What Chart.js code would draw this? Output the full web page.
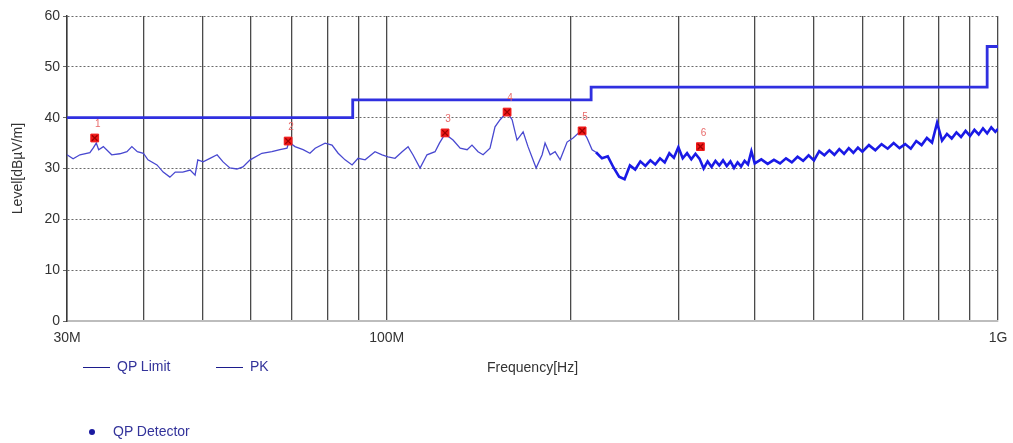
<!DOCTYPE html>
<html>
<head>
<meta charset="utf-8">
<script src="https://cdn.jsdelivr.net/npm/chart.js@4.4.1/dist/chart.umd.min.js"></script>
<style>
  html, body { margin: 0; padding: 0; background: #fff; }
  #wrap { position: relative; width: 1013px; height: 443px; }
  .leg { position: absolute; font: 14px "Liberation Sans", Arial, sans-serif; color: #33339a; white-space: nowrap; }
  .leg .ln { display: inline-block; width: 27px; height: 0; border-top: 1.5px solid #1c1c8c; vertical-align: middle; margin-right: 7px; }
  .leg .dot { display: inline-block; width: 6px; height: 6px; border-radius: 50%; background: #1a1aa0; vertical-align: middle; margin-right: 18px; }
</style>
</head>
<body>
<div id="wrap">
  <canvas id="emiChart" width="1013" height="443"></canvas>
  <div class="leg" style="left:83px; top:358px;"><span class="ln"></span>QP Limit</div>
  <div class="leg" style="left:216px; top:358px;"><span class="ln"></span>PK</div>
  <div class="leg" style="left:89px; top:423px;"><span class="dot"></span>QP Detector</div>
</div>
<script>
// frequency in MHz, level in dBuV/m
const pkFreq = [
  30, 30.7, 31.5, 32.7, 33.1, 33.5, 33.8, 34.4, 35.5, 36.6, 37.6, 38.3, 39.1, 40, 40.7, 42.1, 43.1, 44.2, 45.1, 46.4,
  47.7, 48.6, 49.1, 50.1, 51.4, 52.8, 54, 55.4, 56.9, 58.2, 59.8, 62.5, 64.9, 66.9, 68.7, 69.2, 70.8, 73, 74.9, 76.4,
  79.3, 81.4, 83.3, 85.5, 87.8, 89.8, 92.2, 95.7, 98.3, 100.5, 103.2, 106, 108.4, 110.4, 113.4, 116.4, 120, 122, 124.6, 128.4,
  131.9, 135.4, 137.9, 141.1, 143.8, 147.6, 150.4, 153.3, 157.4, 160.4, 163.4, 167.2, 170.3, 175.6, 179.6, 181.6, 185.1, 188.6, 192.2, 197.3,
  201.8, 208.8, 212.7, 216.8,
  220, 225, 230, 235, 240, 245, 250, 255, 260, 265, 270, 275, 280, 285, 290, 295, 300, 305, 310, 315,
  320, 325, 330, 335, 340, 345, 350, 355, 360, 365, 370, 375, 380, 385, 390, 395, 400, 410, 420, 430,
  440, 450, 460, 470, 480, 490, 500, 510, 520, 530, 540, 550, 560, 570, 580, 590, 600, 615, 630, 645,
  660, 675, 690, 705, 720, 735, 750, 765, 780, 795, 810, 825, 840, 855, 870, 885, 900, 915, 930, 945,
  960, 975, 990, 1000
];
const pkLevel = [
  32.7, 31.9, 32.7, 33.1, 34.0, 35.0, 33.7, 34.3, 32.7, 32.9, 33.3, 34.3, 33.3, 33.0, 31.7, 30.7, 29.3, 28.3, 29.3, 29.3,
  29.7, 28.7, 31.7, 31.3, 32.0, 32.7, 31.3, 30.1, 29.9, 30.3, 31.7, 33.0, 33.3, 33.7, 34.0, 35.2, 34.3, 33.7, 33.0, 34.0,
  35.0, 34.6, 33.0, 31.7, 30.7, 32.0, 31.7, 33.3, 32.7, 32.3, 32.0, 33.3, 34.3, 32.7, 30.1, 32.7, 33.3, 35.0, 36.8, 35.6,
  34.0, 33.7, 34.6, 33.3, 32.7, 34.0, 38.2, 39.6, 41.1, 39.6, 35.6, 37.2, 34.3, 30.1, 32.7, 35.0, 32.7, 33.3, 31.7, 35.2,
  36.0, 37.6, 36.0, 33.7,
  33.2, 32.0, 32.4, 30.2, 28.4, 27.9, 30.6, 29.8, 31.4, 30.5, 31.6, 30.8, 32.0, 31.2, 33.0, 32.1, 34.2, 32.0, 33.0, 31.8,
  32.9, 31.9, 30.0, 31.4, 30.3, 31.5, 30.6, 31.6, 30.5, 31.4, 30.1, 31.2, 30.4, 31.5, 30.8, 33.4, 31.0, 31.8, 30.9, 31.7,
  31.0, 32.0, 31.2, 32.3, 31.5, 32.6, 31.6, 33.4, 32.6, 33.6, 32.7, 33.8, 32.9, 34.0, 33.1, 34.1, 33.3, 34.6, 33.6, 34.8,
  33.9, 35.0, 34.0, 34.8, 33.9, 35.4, 34.6, 36.0, 35.1, 39.0, 35.5, 36.8, 35.9, 37.1, 36.2, 37.4, 36.4, 37.6, 36.7, 37.9,
  36.9, 38.1, 37.2, 37.8
];

// FCC class B quasi-peak limit
const limitFreq = [30, 88, 88, 216, 216, 960, 960, 1000];
const limitLevel = [40, 40, 43.5, 43.5, 46, 46, 54, 54];

// QP detector readings
const qpFreq = [33.3, 69.0, 124.6, 157.4, 208.8, 326];
const qpLevel = [36.0, 35.4, 37.0, 41.1, 37.4, 34.3];
const qpTags = ['1', '2', '3', '4', '5', '6'];

const xGridFreq = [30, 40, 50, 60, 70, 80, 90, 100, 200, 300, 400, 500, 600, 700, 800, 900, 1000];
const xTickText = { 30: '30M', 100: '100M', 1000: '1G' };
const yTicks = [0, 10, 20, 30, 40, 50, 60];

const toPts = (xs, ys) => xs.map((x, i) => ({ x: x, y: ys[i] }));

const markerTags = {
  id: 'markerTags',
  afterDatasetsDraw(chart) {
    const meta = chart.getDatasetMeta(2);
    const ctx = chart.ctx;
    ctx.save();
    ctx.fillStyle = '#e86a6a';
    ctx.font = '10px "Liberation Sans", Arial, sans-serif';
    ctx.textAlign = 'center';
    meta.data.forEach((pt, i) => {
      ctx.fillText(qpTags[i], pt.x + 3, pt.y - 11);
    });
    ctx.restore();
  }
};

const font = { family: '"Liberation Sans", Arial, sans-serif', size: 14 };

new Chart(document.getElementById('emiChart').getContext('2d'), {
  type: 'line',
  data: {
    datasets: [
      {
        label: 'QP Limit',
        data: toPts(limitFreq, limitLevel),
        borderColor: '#3030e0',
        borderWidth: 2.8,
        pointRadius: 0,
        tension: 0,
        order: 2
      },
      {
        label: 'PK',
        data: toPts(pkFreq, pkLevel),
        borderColor: '#3a3ad6',
        borderWidth: 1.2,
        pointRadius: 0,
        tension: 0,
        segment: {
          borderWidth: c => c.p0.parsed.x >= 220 ? 2.6 : 1.3,
          borderColor: c => c.p0.parsed.x >= 220 ? '#1a1ae6' : '#4848d0'
        },
        order: 3
      },
      {
        label: 'QP Detector',
        data: toPts(qpFreq, qpLevel),
        showLine: false,
        pointStyle: 'rect',
        pointRadius: 5.5,
        pointBackgroundColor: '#f01818',
        pointBorderColor: '#f01818',
        order: 1
      },
      {
        label: 'QP Detector mark',
        data: toPts(qpFreq, qpLevel),
        showLine: false,
        pointStyle: 'crossRot',
        pointRadius: 4,
        pointBorderColor: '#a00000',
        pointBorderWidth: 1.3,
        order: 0
      }
    ]
  },
  options: {
    responsive: false,
    animation: false,
    devicePixelRatio: 1,
    layout: { padding: { top: 16, right: 15, bottom: 66, left: 0 } },
    plugins: {
      legend: { display: false },
      tooltip: { enabled: false }
    },
    scales: {
      x: {
        type: 'logarithmic',
        min: 30,
        max: 1000,
        afterFit: s => { s.height = 56; s.paddingLeft = 0; s.paddingRight = 0; },
        afterBuildTicks: s => { s.ticks = xGridFreq.map(v => ({ value: v })); },
        ticks: {
          autoSkip: false,
          maxRotation: 0,
          color: '#333',
          font: font,
          padding: 9,
          callback: v => xTickText[v] || ''
        },
        grid: { color: '#4a4a4a', lineWidth: 1.3, drawTicks: false },
        border: { display: true, color: '#bdbdbd', width: 2 },
        title: { display: true, text: 'Frequency[Hz]', color: '#333', font: font, padding: 0 }
      },
      y: {
        min: 0,
        max: 60,
        afterFit: s => { s.width = 67; },
        afterBuildTicks: s => { s.ticks = yTicks.map(v => ({ value: v })); },
        ticks: { color: '#333', font: { family: font.family, size: 14 }, padding: 3 },
        grid: { color: '#6a6a6a', lineWidth: 1, tickLength: 4 },
        border: { display: true, color: '#3a3a3a', width: 1.5, dash: [2, 2] },
        title: { display: true, text: 'Level[dBµV/m]', color: '#333', font: font, padding: { top: 10, bottom: 0 } }
      }
    }
  },
  plugins: [markerTags]
});
</script>
</body>
</html>
